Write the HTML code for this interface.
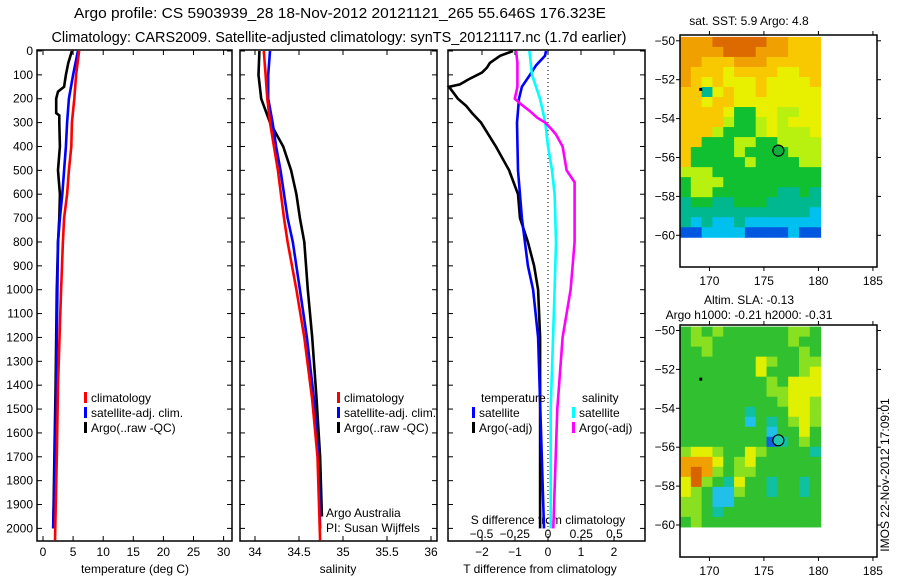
<!DOCTYPE html>
<html><head><meta charset="utf-8">
<style>
body{margin:0;background:#fff;}
svg{display:block;font-family:"Liberation Sans",sans-serif;}
text{fill:#000;}
</style></head>
<body>
<svg id="chart" width="900" height="580" viewBox="0 0 900 580" xmlns="http://www.w3.org/2000/svg">
<rect width="900" height="580" fill="#fff"/>
<text x="340" y="18" font-size="14.5" text-anchor="middle" textLength="532" lengthAdjust="spacingAndGlyphs">Argo profile: CS 5903939_28 18-Nov-2012 20121121_265 55.646S 176.323E</text>
<text x="339" y="42" font-size="14.5" text-anchor="middle" textLength="575" lengthAdjust="spacingAndGlyphs">Climatology: CARS2009. Satellite-adjusted climatology: synTS_20121117.nc (1.7d earlier)</text>
<g id="g"></g>
</svg>
<script>
// ---------- data ----------
const depthTicks=[0,100,200,300,400,500,600,700,800,900,1000,1100,1200,1300,1400,1500,1600,1700,1800,1900,2000];
const tempTicks=[0,5,10,15,20,25,30];
const salTicks=[34,34.5,35,35.5,36];
const tdiffTicks=[-2,-1,0,1,2];
const sdiffTicks=[-0.5,-0.25,0,0.25,0.5];
const sdiffTickLabels=["-0.5","-0.25","0","0.25","0.5"];
const lonTicks=[170,175,180,185];
const latTicks=[-50,-52,-54,-56,-58,-60];

const climTD=[0,100,200,300,400,500,600,700,800,1000,1150,1400,1700,2050];
const climT=[6.0,5.5,5.2,4.8,4.7,4.3,4.0,3.5,3.3,3.0,2.8,2.5,2.3,2.0];
const satTD=[0,100,200,300,400,500,600,700,800,1000,1400,1700,2000];
const satT=[5.8,5.0,4.3,4.0,3.8,3.5,3.2,2.8,2.5,2.4,2.2,2.0,1.7];
const argoTD=[0,50,100,150,170,200,260,270,300,400,500,600,700,800,1000,1400,1700,2000];
const argoT=[4.8,4.2,3.8,3.5,2.5,2.2,2.2,2.7,2.7,2.8,2.5,2.8,2.7,2.5,2.3,2.1,1.9,1.7];

const climSD=[0,100,200,300,500,700,800,1000,1200,1460,1700,2050];
const climS=[34.10,34.12,34.14,34.17,34.26,34.33,34.37,34.47,34.56,34.65,34.71,34.74];
const satSD=[0,100,200,300,400,500,700,800,1000,1200,1460,1700,2000];
const satS=[34.17,34.15,34.15,34.20,34.24,34.29,34.37,34.43,34.51,34.59,34.67,34.72,34.74];
const argoSD=[0,100,200,300,400,500,600,700,800,1000,1200,1460,1700,1950];
const argoS=[34.05,34.04,34.07,34.17,34.32,34.41,34.47,34.51,34.56,34.60,34.65,34.70,34.74,34.76];

const argoTdD=[0,20,50,70,90,120,140,150,200,230,260,300,400,500,600,700,800,900,1000,1200,2000];
const argoTd=[-1.06,-1.45,-1.76,-1.85,-2.0,-2.42,-2.67,-3.0,-2.73,-2.48,-2.3,-2.03,-1.58,-1.18,-0.91,-0.85,-0.61,-0.42,-0.30,-0.24,-0.24];
const satTdD=[0,20,60,100,150,200,250,300,500,700,900,1000,1200,2000];
const satTd=[-0.06,-0.09,-0.36,-0.55,-0.79,-0.88,-0.91,-0.94,-0.91,-0.79,-0.61,-0.45,-0.30,-0.12];
const argoSdD=[0,50,150,200,220,250,280,300,330,350,400,500,550,600,700,800,1000,1200,1500,2000];
const argoSd=[-0.24,-0.23,-0.23,-0.25,-0.21,-0.14,-0.08,-0.02,0.03,0.06,0.11,0.14,0.20,0.20,0.20,0.20,0.17,0.11,0.07,0.04];
const satSdD=[0,100,200,300,400,500,600,800,1000,1500,2000];
const satSd=[-0.14,-0.12,-0.06,-0.02,0.0,0.03,0.05,0.06,0.05,0.02,0.02];

const sstRows=["OOODDDDDOOAAA","OOOODDDOOOAAA","OOAAAOOOAAAAA","OAAAYAAAAYYAA","OAYAYYYAYYYYA","AATYAYYAYYYYY","AAYAAYYYYYYYY","AAAAYGGYYLLYY","AAAALGGLYLYYY","AAALGGGLYLLLY","AAGGGLLGGLLLL","AGGGGLGGGGLLL","AGGGGGLGGGGLL","LLLGGGGGGGGGG","GLLLGGGGGGGGG","GLLGGGGGGTTGT","TGGTTGGGTTTTT","TTTTTTTTTTTTC","TCTCCTCCCCCCC","BBCCCCBBBBCBB"];
const slaRows=["GLGLGGGGGGLLG","GLLGGGGGGGLGG","GGLGGGGGGGGLG","GGGGGGGYLGGLL","GGGGGGGYGGGLY","GGGGGGGGLGYYY","GGGGGGGGLLYYY","GGGGGGGGGLYYL","GGGGGGTGGGYYL","GGGGGGCGTGLYL","GGGGGGGGCGGYG","GGGGGGGGBTGLG","LYYLGGYLGGGGT","OOOYGLYGGGGGG","OROLGLLGGGGGG","YRLGTYGGTGGTG","YLGCCLGGTGGTG","LLGCCGGGGGGGG","LLGTGGGGGGGGG","GLGGGGGGGGGGG"];
const argoLon=176.323, argoLat=-55.646;

// ---------- helpers ----------
const NS="http://www.w3.org/2000/svg";
const G=document.getElementById('g');
function mk(tag,attrs,parent){const e=document.createElementNS(NS,tag);for(const k in attrs)e.setAttribute(k,attrs[k]);(parent||G).appendChild(e);return e;}
function txt(x,y,s,size,anchor,parent){const t=mk('text',{x:x,y:y,'font-size':size||12,'text-anchor':anchor||'middle'},parent);t.textContent=s;return t;}

const Y0=51, YPM=0.2387, PT=50, PB=541;
const yD=d=>Y0+d*YPM;
const xT=t=>43+t*6.02;
const xS=s=>255+(s-34)*88;
const xTd=t=>548+t*33;
const xSd=s=>548+s*133;

function panel(name,x0,x1){
  const p=mk('g',{});
  
  
  mk('rect',{x:x0,y:PT,width:x1-x0,height:PB-PT,fill:'none',stroke:'#000','stroke-width':1.5},p);
  depthTicks.forEach(d=>{const y=yD(d);mk('line',{x1:x0,x2:x0+5,y1:y,y2:y,stroke:'#000'},p);mk('line',{x1:x1-5,x2:x1,y1:y,y2:y,stroke:'#000'},p);});
  return p;
}
function line(p,name,xs,ds,fx,color){
  let pts='';
  for(let i=0;i<xs.length;i++){const x=fx(xs[i]).toFixed(1),y=yD(ds[i]).toFixed(1);pts+=x+','+y+' ';}
  const l=mk('polyline',{points:pts,fill:'none',stroke:color,'stroke-width':2.6,'stroke-linejoin':'miter'},p);
  
  
}
function legend(p,x,y,items){
  items.forEach((it,i)=>{
    const yy=y+i*15;
    const b=mk('rect',{x:x,y:yy-10,width:3,height:11,fill:it[1]},p);
    
    
    const t=txt(x+7,yy,it[0],12,'start',p);
    
    
  });
}

// depth labels
depthTicks.forEach(d=>{const t=txt(33,yD(d)+4,String(d),12,'end');
  
  });

// Panel 1 temperature
const p1=panel('temperature-panel',37,232);
tempTicks.forEach(v=>{const x=xT(v);mk('line',{x1:x,x2:x,y1:PT,y2:PT+5,stroke:'#000'},p1);mk('line',{x1:x,x2:x,y1:PB-5,y2:PB,stroke:'#000'},p1);txt(x,556,String(v),12,'middle',p1);});
txt(135,573,'temperature (deg C)',12,'middle',p1);
line(p1,'temp-argo-line',argoT,argoTD,xT,'#000');
line(p1,'temp-satellite-line',satT,satTD,xT,'#00f');
line(p1,'temp-climatology-line',climT,climTD,xT,'#f00');
legend(p1,84,402,[['climatology','#f00'],['satellite-adj. clim.','#00f'],['Argo(..raw -QC)','#000']]);

// Panel 2 salinity
const p2=panel('salinity-panel',240,437);
salTicks.forEach(v=>{const x=xS(v);mk('line',{x1:x,x2:x,y1:PT,y2:PT+5,stroke:'#000'},p2);mk('line',{x1:x,x2:x,y1:PB-5,y2:PB,stroke:'#000'},p2);txt(x,556,String(v),12,'middle',p2);});
txt(338,573,'salinity',12,'middle',p2);
line(p2,'sal-argo-line',argoS,argoSD,xS,'#000');
line(p2,'sal-satellite-line',satS,satSD,xS,'#00f');
line(p2,'sal-climatology-line',climS,climSD,xS,'#f00');
legend(p2,337,402,[['climatology','#f00'],['satellite-adj. clim.','#00f'],['Argo(..raw -QC)','#000']]);
txt(326,517,'Argo Australia',12,'start',p2);
txt(326,532,'PI: Susan Wijffels',12,'start',p2);

// Panel 3 differences
const p3=panel('difference-panel',448,645);
tdiffTicks.forEach(v=>{const x=xTd(v);mk('line',{x1:x,x2:x,y1:PT,y2:PT+5,stroke:'#000'},p3);mk('line',{x1:x,x2:x,y1:PB-5,y2:PB,stroke:'#000'},p3);txt(x,556,v<0?'\u2212'+(-v):String(v),12,'middle',p3);});
sdiffTicks.forEach((v,i)=>{txt(xSd(v),538,sdiffTickLabels[i].replace('-','\u2212'),12,'middle',p3);});
txt(548,524,'S difference from climatology',12,'middle',p3);
txt(540,573,'T difference from climatology',12,'middle',p3);
mk('line',{x1:548,x2:548,y1:PT,y2:PB,stroke:'#000','stroke-dasharray':'1,3'},p3);
line(p3,'tdiff-argo-line',argoTd,argoTdD,xTd,'#000');
line(p3,'tdiff-satellite-line',satTd,satTdD,xTd,'#00f');
line(p3,'sdiff-satellite-line',satSd,satSdD,xSd,'#0ff');
line(p3,'sdiff-argo-line',argoSd,argoSdD,xSd,'#f0f');
txt(481,402,'temperature',12,'start',p3);
txt(582,402,'salinity',12,'start',p3);
legend(p3,472,417,[['satellite','#00f'],['Argo(-adj)','#000']]);
legend(p3,572,417,[['satellite','#0ff'],['Argo(-adj)','#f0f']]);

// Maps
const sstCol={D:'#dc6a00',O:'#f0a000',A:'#f8c800',Y:'#e8f000',L:'#b8f010',G:'#10c030',T:'#00b890',C:'#00c0f0',B:'#0058e0'};
const slaCol={G:'#30c030',L:'#88e020',Y:'#e0f000',O:'#f0a000',R:'#d86400',T:'#10c0a0',C:'#20c0e8',B:'#1060e0'};
const LON0=167.3, PXLON=10.9;
function mapPanel(name,top,lat50y,rows,cols,circleFill){
  const m=mk('g',{});
  
  
  const xL=lo=>680+(lo-LON0)*PXLON;
  const yL=la=>lat50y+(-50-la)*19.45;
  const nr=rows.length, nc=rows[0].length;
  const latTop=-49.8, latBot=-60.1, lonL=167.3, lonR=180.2;
  const ch=(yL(latBot)-yL(latTop))/nr, cw=(xL(lonR)-xL(lonL))/nc;
  rows.forEach((r,i)=>{for(let j=0;j<nc;j++){
    const c=mk('rect',{x:(xL(lonL)+j*cw).toFixed(2),y:(yL(latTop)+i*ch).toFixed(2),width:(cw+0.5).toFixed(2),height:(ch+0.5).toFixed(2),fill:cols[r[j]]||'#30c030'},m);
    
    
  }});
  mk('rect',{x:680,y:top,width:197,height:232,fill:'none',stroke:'#000','stroke-width':1.5},m);
  lonTicks.forEach(lo=>{const x=xL(lo);mk('line',{x1:x,x2:x,y1:top,y2:top-4,stroke:'#000'},m);mk('line',{x1:x,x2:x,y1:top+232,y2:top+236,stroke:'#000'},m);txt(x,top+250,String(lo),12,'middle',m);});
  latTicks.forEach(la=>{const y=yL(la);mk('line',{x1:680,x2:676,y1:y,y2:y,stroke:'#000'},m);mk('line',{x1:877,x2:881,y1:y,y2:y,stroke:'#000'},m);txt(675,y+4,'\u2212'+(-la),12,'end',m);});
  const c=mk('circle',{cx:xL(argoLon),cy:yL(argoLat),r:5.5,fill:circleFill,stroke:'#000','stroke-width':1.2},m);
  
  
  mk('rect',{x:xL(169.2)-1.5,y:yL(-52.5)-1.5,width:3,height:3,fill:'#000'},m);
}
mapPanel('sst-map',35,40.8,sstRows,sstCol,'#10b040');
mapPanel('sla-map',325,330.5,slaRows,slaCol,'#20c8b0');
txt(749,25,'sat. SST: 5.9 Argo: 4.8',12,'middle');
txt(749,304,'Altim. SLA: -0.13',12,'middle');
txt(749,319,'Argo h1000: -0.21 h2000: -0.31',12,'middle');
const im=txt(0,0,'IMOS 22-Nov-2012 17:09:01',12,'middle');
im.setAttribute('transform','translate(889,475) rotate(-90)');


</script>
</body></html>
